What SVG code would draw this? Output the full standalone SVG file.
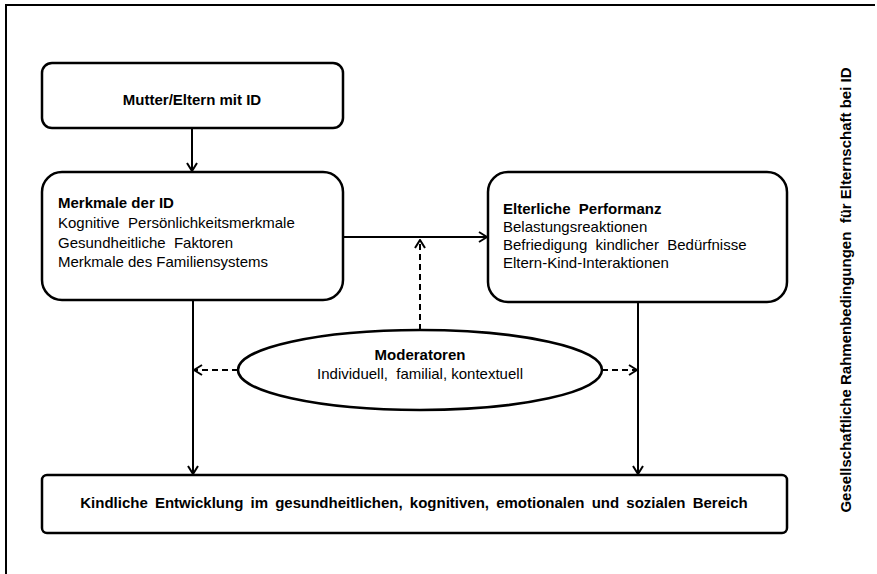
<svg xmlns="http://www.w3.org/2000/svg" width="877" height="574" viewBox="0 0 877 574">
<defs>
<marker id="arr" viewBox="0 0 12 12" refX="11" refY="6" markerWidth="12" markerHeight="12" markerUnits="userSpaceOnUse" orient="auto">
<path d="M3,1 L11,6 L3,11" fill="none" stroke="#000" stroke-width="2"/>
</marker>
<style>
.box{fill:#fff;stroke:#000;stroke-width:2.5}
.t{font-family:"Liberation Sans",Arial,sans-serif;font-size:15px;fill:#000}
.b{font-weight:bold}
.c{fill:none;stroke:#000;stroke-width:2}
.d{stroke-dasharray:6,4}
</style>
</defs>
<rect width="877" height="574" fill="#fff"/>
<path d="M6,574 L6,5 L875,5" fill="none" stroke="#000" stroke-width="2"/>
<g id="connectors">
<line class="c" x1="192" y1="129" x2="192" y2="171" marker-end="url(#arr)"/>
<line class="c" x1="344" y1="237" x2="487" y2="237" marker-end="url(#arr)"/>
<line class="c d" x1="420" y1="330" x2="420" y2="240" marker-end="url(#arr)"/>
<line class="c d" x1="238" y1="370" x2="194" y2="370" marker-end="url(#arr)"/>
<line class="c d" x1="602" y1="370" x2="637" y2="370" marker-end="url(#arr)"/>
<line class="c" x1="193" y1="301" x2="193" y2="474" marker-end="url(#arr)"/>
<line class="c" x1="638" y1="303" x2="638" y2="474" marker-end="url(#arr)"/>
</g>
<g id="mutter">
<rect class="box" x="42" y="63" width="301" height="65" rx="10"/>
<text class="t b" x="192" y="105" text-anchor="middle">Mutter/Eltern mit ID</text>
</g>
<g id="merkmale">
<rect class="box" x="42" y="172" width="301" height="128" rx="20"/>
<text class="t b" x="58" y="208">Merkmale der ID</text>
<text class="t" x="58" y="228" xml:space="preserve">Kognitive  Persönlichkeitsmerkmale</text>
<text class="t" x="58" y="248" xml:space="preserve">Gesundheitliche  Faktoren</text>
<text class="t" x="58" y="267">Merkmale des Familiensystems</text>
</g>
<g id="performanz">
<rect class="box" x="488" y="172" width="299" height="130" rx="20"/>
<text class="t b" x="503" y="214" xml:space="preserve">Elterliche  Performanz</text>
<text class="t" x="503" y="232">Belastungsreaktionen</text>
<text class="t" x="503" y="250" xml:space="preserve">Befriedigung  kindlicher  Bedürfnisse</text>
<text class="t" x="503" y="268">Eltern-Kind-Interaktionen</text>
</g>
<g id="moderatoren">
<ellipse class="box" cx="420" cy="370" rx="182" ry="40"/>
<text class="t b" x="420" y="360" text-anchor="middle">Moderatoren</text>
<text class="t" x="420" y="379" text-anchor="middle" xml:space="preserve">Individuell,  familial, kontextuell</text>
</g>
<g id="entwicklung">
<rect class="box" x="42" y="475" width="745" height="58" rx="5"/>
<text class="t b" x="414" y="508" text-anchor="middle" word-spacing="3">Kindliche Entwicklung im gesundheitlichen, kognitiven, emotionalen und sozialen Bereich</text>
</g>
<g id="rahmen">
<text class="t b" transform="translate(851,290) rotate(-90)" text-anchor="middle" xml:space="preserve">Gesellschaftliche Rahmenbedingungen  für Elternschaft bei ID</text>
</g>
</svg>
